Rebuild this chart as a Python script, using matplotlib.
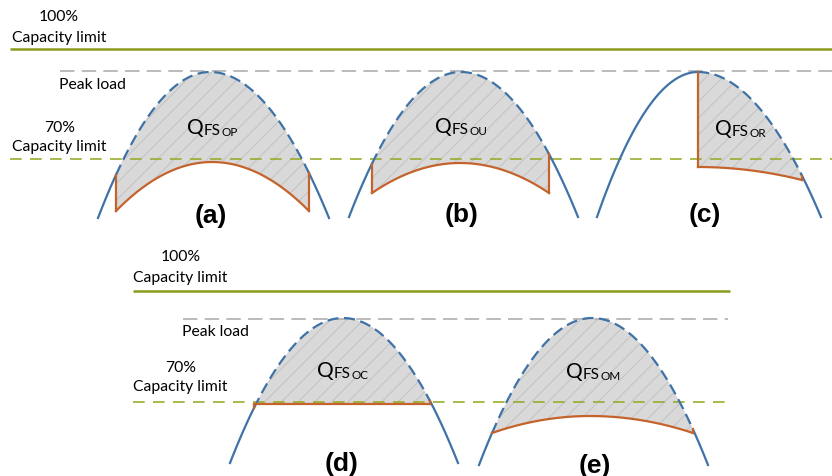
import numpy as np
import matplotlib
matplotlib.use('Agg')
import matplotlib.pyplot as plt

# panel shapes (pixel units, y grows downward)
panels = ['(a)', '(b)', '(c)', '(d)', '(e)']
peak_x = [210, 461, 698, 343, 592]
peak_y = [73, 73, 73, 319, 319]
foot_y = [219, 218, 218, 464, 466]
left_w = [112, 112, 101, 113, 113]
right_w = [119, 117, 123, 115, 116]

# orange "load after flattening" curves
load_start = [116, 372, 698, 254, 492]
load_end = [309, 549, 802, 430, 693]
load_top_x = [212, 460, 698, 342, 590]
load_top_y = [163, 164, 168, 405, 417]
load_end_y = [212, 194, 181, 405, 434]

q_sub = ['OP', 'OU', 'OR', 'OC', 'OM']
q_pos = [(187, 134), (435, 133), (715, 135), (317, 377), (566, 378)]
label_pos = [(211, 216), (462, 215), (705, 215), (342, 464), (595, 466)]

# reference lines: (y, x start, x end)
cap100 = [(50, 10, 832), (292, 133, 730)]
peak_lines = [(72, 60, 832), (320, 183, 728)]
cap70 = [(160, 10, 832), (403, 133, 728)]

BLUE = '#3f72a6'
ORANGE = '#c5632c'
GREEN = '#8a9b1c'
GREEN2 = '#9aab2e'
GREY = '#b5b5b5'
FONT = 'Lato'

plt.rcParams['hatch.linewidth'] = 0.7
plt.rcParams['hatch.color'] = '#c2c2c2'

fig = plt.figure(figsize=(8.32, 4.77), dpi=100)
ax = fig.add_axes([0, 0, 1, 1])
ax.set_xlim(0, 832)
ax.set_ylim(477, 0)
ax.axis('off')


def blue_y(i, x):
    w = np.where(x < peak_x[i], left_w[i], right_w[i])
    return peak_y[i] + (foot_y[i] - peak_y[i]) * ((x - peak_x[i]) / w) ** 2


def load_y(i, x):
    wl = max(load_top_x[i] - load_start[i], 1)
    wr = max(load_end[i] - load_top_x[i], 1)
    w = np.where(x < load_top_x[i], wl, wr)
    return load_top_y[i] + (load_end_y[i] - load_top_y[i]) * ((x - load_top_x[i]) / w) ** 2


for y, x0, x1 in cap100:
    ax.plot([x0, x1], [y, y], color=GREEN, lw=1.8, solid_capstyle='butt')
for y, x0, x1 in peak_lines:
    ax.plot([x0, x1], [y, y], color=GREY, lw=1.3, dashes=(8, 4))
for y, x0, x1 in cap70:
    ax.plot([x0, x1], [y, y], color=GREEN2, lw=1.2, dashes=(7, 5))

for i in range(len(panels)):
    xl = peak_x[i] - left_w[i]
    xr = peak_x[i] + right_w[i]
    xs = np.linspace(load_start[i], load_end[i], 200)

    ax.fill_between(xs, blue_y(i, xs), load_y(i, xs), facecolor='#d9d9d9',
                    edgecolor='#c2c2c2', hatch='//', linewidth=0, zorder=1)

    left = np.linspace(xl, load_start[i], 100)
    right = np.linspace(load_end[i], xr, 100)
    ax.plot(left, blue_y(i, left), color=BLUE, lw=1.6, zorder=3)
    ax.plot(right, blue_y(i, right), color=BLUE, lw=1.6, zorder=3)
    ax.plot(xs, blue_y(i, xs), color=BLUE, lw=1.6, dashes=(5, 2.5), zorder=3)

    ax.plot(xs, load_y(i, xs), color=ORANGE, lw=1.6, zorder=4)
    for xe in (load_start[i], load_end[i]):
        ax.plot([xe, xe], [blue_y(i, np.array(xe)), load_y(i, np.array(xe))],
                color=ORANGE, lw=1.6, zorder=4)

    qx, qy = q_pos[i]
    t = ax.text(qx, qy, 'Q', fontsize=15, family=FONT, va='baseline', ha='left')
    t2 = ax.annotate('FS', xy=(1, 0), xycoords=t, xytext=(0.2, 0),
                     textcoords='offset points', fontsize=11, family=FONT,
                     va='bottom', ha='left')
    ax.annotate(q_sub[i], xy=(1, 0), xycoords=t2, xytext=(0.2, 0),
                textcoords='offset points', fontsize=8.5, family=FONT,
                va='bottom', ha='left')

    lx, ly = label_pos[i]
    ax.text(lx, ly, panels[i], fontsize=19, fontweight='bold',
            family='Liberation Sans', ha='center', va='center')

# side annotations
txt = dict(fontsize=11.3, family=FONT, va='center')
ax.text(59, 17, '100%', ha='center', **txt)
ax.text(12, 38, 'Capacity limit', ha='left', **txt)
ax.text(59, 85, 'Peak load', ha='left', **txt)
ax.text(60, 128, '70%', ha='center', **txt)
ax.text(12, 147, 'Capacity limit', ha='left', **txt)

ax.text(181, 257, '100%', ha='center', **txt)
ax.text(133, 278, 'Capacity limit', ha='left', **txt)
ax.text(182, 332, 'Peak load', ha='left', **txt)
ax.text(181, 368, '70%', ha='center', **txt)
ax.text(133, 387, 'Capacity limit', ha='left', **txt)

fig.savefig('out.png', dpi=100)
